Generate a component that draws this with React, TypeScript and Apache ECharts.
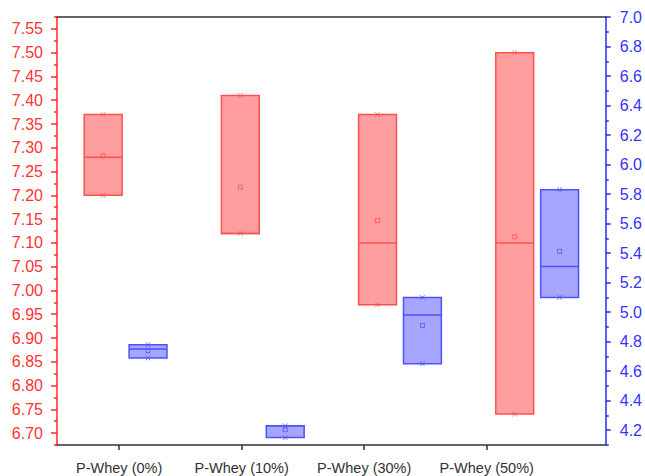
import React, { useEffect, useRef } from "react";
import * as echarts from "echarts";

const categories = ["P-Whey (0%)", "P-Whey (10%)", "P-Whey (30%)", "P-Whey (50%)"];

// left axis (red) series: min, median, max, mean
const redMin = [7.2, 7.12, 6.97, 6.74];
const redMedian = [7.28, 7.12, 7.1, 7.1];
const redMax = [7.37, 7.41, 7.37, 7.5];
const redMean = [7.283, 7.217, 7.147, 7.113];

// right axis (blue) series: min, median, max, mean
const blueMin = [4.69, 4.15, 4.65, 5.1];
const blueMedian = [4.75, 4.23, 4.98, 5.31];
const blueMax = [4.78, 4.23, 5.1, 5.83];
const blueMean = [4.74, 4.203, 4.91, 5.413];

// tick values
const leftMajorTicks = [6.7, 6.75, 6.8, 6.85, 6.9, 6.95, 7.0, 7.05, 7.1, 7.15, 7.2, 7.25, 7.3, 7.35, 7.4, 7.45, 7.5, 7.55];
const leftMinorTicks = [6.675, 6.725, 6.775, 6.825, 6.875, 6.925, 6.975, 7.025, 7.075, 7.125, 7.175, 7.225, 7.275, 7.325, 7.375, 7.425, 7.475, 7.525, 7.575];
const rightMajorTicks = [4.2, 4.4, 4.6, 4.8, 5.0, 5.2, 5.4, 5.6, 5.8, 6.0, 6.2, 6.4, 6.6, 6.8, 7.0];
const rightMinorTicks = [4.1, 4.3, 4.5, 4.7, 4.9, 5.1, 5.3, 5.5, 5.7, 5.9, 6.1, 6.3, 6.5, 6.7, 6.9];
const xTickPositions = [1, 2, 3, 4];

const RED_TXT = "#ff3333";
const RED_AX = "#ff2a2a";
const BLUE_TXT = "#3333ff";
const BLUE_AX = "#2a2aff";
const GREY = "#333333";
const FONT = "Liberation Sans";

function makeRender(offsetFrac: number, widthFrac: number, fill: string, stroke: string) {
  return (params: any, api: any) => {
    const idx = api.value(0);
    const pMin = api.coord([idx, api.value(1)]);
    const pMed = api.coord([idx, api.value(2)]);
    const pMax = api.coord([idx, api.value(3)]);
    const pMean = api.coord([idx, api.value(4)]);
    const band = api.size([1, 0])[0];
    const cx = pMin[0] + offsetFrac * band;
    const w = widthFrac * band;
    const x0 = cx - w / 2;
    const m = 2.3;
    const cross = (y: number) => [
      { type: "line", shape: { x1: cx - m, y1: y - m, x2: cx + m, y2: y + m }, style: { stroke, lineWidth: 0.8 } },
      { type: "line", shape: { x1: cx - m, y1: y + m, x2: cx + m, y2: y - m }, style: { stroke, lineWidth: 0.8 } },
    ];
    return {
      type: "group",
      children: [
        {
          type: "rect",
          shape: { x: x0, y: pMax[1], width: w, height: pMin[1] - pMax[1] },
          style: { fill, stroke, lineWidth: 1.5 },
        },
        {
          type: "line",
          shape: { x1: x0, y1: pMed[1], x2: x0 + w, y2: pMed[1] },
          style: { stroke, lineWidth: 1.5 },
        },
        {
          type: "rect",
          shape: { x: cx - 2, y: pMean[1] - 2, width: 4, height: 4 },
          style: { fill: "none", stroke, lineWidth: 0.8 },
        },
        ...cross(pMin[1]),
        ...cross(pMax[1]),
      ],
    };
  };
}

export default function App() {
  const ref = useRef<HTMLDivElement>(null);
  useEffect(() => {
    if (!ref.current) return;
    document.body.style.margin = "0";
    const chart = echarts.init(ref.current, null, { renderer: "svg" });
    const redData = categories.map((_, i) => [i, redMin[i], redMedian[i], redMax[i], redMean[i]]);
    const blueData = categories.map((_, i) => [i, blueMin[i], blueMedian[i], blueMax[i], blueMean[i]]);
    chart.setOption({
      animation: false,
      grid: { left: 57, right: 38, top: 17, bottom: 31, containLabel: false },
      xAxis: [
        { type: "category", data: categories, show: false, boundaryGap: true },
        {
          type: "value",
          position: "bottom",
          min: 0.4927,
          max: 4.9715,
          splitLine: { show: false },
          axisLine: { show: true, lineStyle: { color: GREY, width: 1.5 } },
          axisTick: { show: true, customValues: xTickPositions, length: 5, lineStyle: { color: GREY, width: 1.5 } },
          axisLabel: {
            show: true,
            customValues: xTickPositions,
            formatter: (v: number) => categories[Math.round(v) - 1] ?? "",
            color: GREY,
            fontFamily: FONT,
            fontSize: 14.5,
            margin: 15,
          },
        },
        {
          type: "value",
          position: "top",
          min: 0,
          max: 1,
          splitLine: { show: false },
          axisLine: { show: true, lineStyle: { color: GREY, width: 1.5 } },
          axisTick: { show: false },
          axisLabel: { show: false },
        },
      ],
      yAxis: [
        {
          type: "value",
          position: "left",
          min: 6.675,
          max: 7.575,
          splitLine: { show: false },
          axisLine: { show: true, lineStyle: { color: RED_AX, width: 1.5 } },
          axisTick: { show: true, customValues: leftMajorTicks, length: 6, lineStyle: { color: RED_AX, width: 1.5 } },
          axisLabel: {
            show: true,
            customValues: leftMajorTicks,
            formatter: (v: number) => v.toFixed(2),
            color: RED_TXT,
            fontFamily: FONT,
            fontSize: 16,
            margin: 14,
          },
        },
        {
          type: "value",
          position: "right",
          min: 4.1,
          max: 7.0,
          splitLine: { show: false },
          axisLine: { show: true, lineStyle: { color: BLUE_AX, width: 1.5 } },
          axisTick: { show: true, customValues: rightMajorTicks, length: 5, lineStyle: { color: BLUE_AX, width: 1.5 } },
          axisLabel: {
            show: true,
            customValues: rightMajorTicks,
            formatter: (v: number) => v.toFixed(1),
            color: BLUE_TXT,
            fontFamily: FONT,
            fontSize: 16,
            margin: 14,
          },
        },
        {
          type: "value",
          position: "left",
          min: 6.675,
          max: 7.575,
          splitLine: { show: false },
          axisLine: { show: false },
          axisTick: { show: true, customValues: leftMinorTicks, length: 3, lineStyle: { color: RED_AX, width: 1.5 } },
          axisLabel: { show: false },
        },
        {
          type: "value",
          position: "right",
          min: 4.1,
          max: 7.0,
          splitLine: { show: false },
          axisLine: { show: false },
          axisTick: { show: true, customValues: rightMinorTicks, length: 3, lineStyle: { color: BLUE_AX, width: 1.5 } },
          axisLabel: { show: false },
        },
      ],
      series: [
        {
          type: "custom",
          name: "red",
          xAxisIndex: 0,
          yAxisIndex: 0,
          encode: { x: 0, y: [1, 2, 3, 4] },
          data: redData,
          renderItem: makeRender(-0.1636, 0.276, "rgba(255,0,0,0.38)", "#ff5050"),
        },
        {
          type: "custom",
          name: "blue",
          xAxisIndex: 0,
          yAxisIndex: 1,
          encode: { x: 0, y: [1, 2, 3, 4] },
          data: blueData,
          renderItem: makeRender(0.1636, 0.276, "rgba(0,0,255,0.35)", "#5050ff"),
        },
      ],
    });
    return () => chart.dispose();
  }, []);
  return <div ref={ref} style={{ width: 645, height: 476 }} />;
}
